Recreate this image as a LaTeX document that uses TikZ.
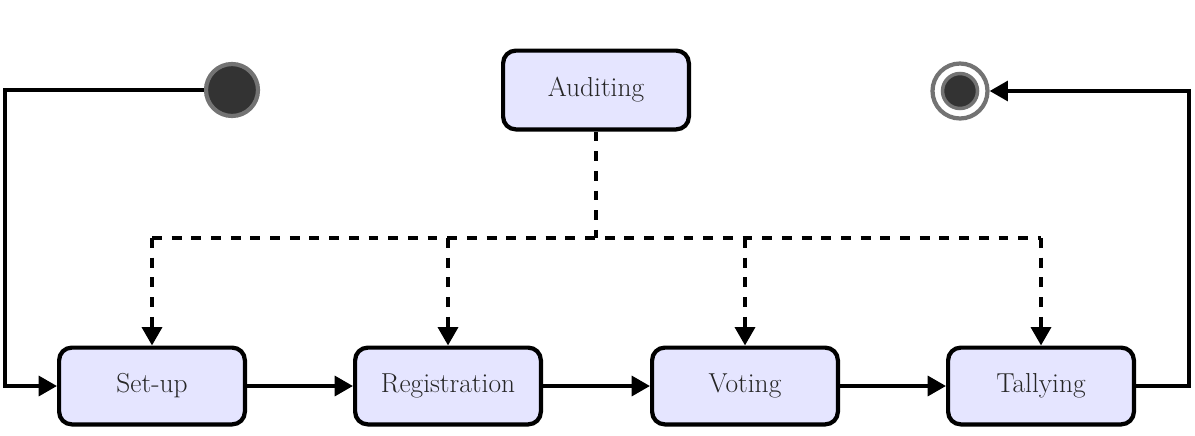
\documentclass[tikz,border=0pt]{standalone}
\usetikzlibrary{arrows.meta}
\begin{document}
\begin{tikzpicture}[x=0.025cm,y=-0.025cm,
  state/.style={draw=black, line width=3pt, rounded corners=9pt, fill=blue!10,
    minimum width=190*0.025cm-3pt, minimum height=81*0.025cm-3pt, inner sep=0pt,
    text=black!85, font=\fontsize{19.5}{23}\selectfont},
  flow/.style={line width=2.8pt, -{Triangle[length=13pt,width=14pt]}},
  dflow/.style={line width=2.8pt, dash pattern=on 7pt off 7pt},
  startnode/.style={circle, draw=black!55, line width=3pt, fill=black!80, minimum size=52*0.025cm, inner sep=0pt},
]
\useasboundingbox (0,0) rectangle (1195,435);
\node[state] (setup) at (152,386) {Set-up};
\node[state] (reg) at (448,386) {Registration};
\node[state] (vote) at (745,386) {Voting};
\node[state] (tally) at (1041,386) {Tallying};
\node[state, minimum height=83*0.025cm-3pt] (audit) at (596,90) {Auditing};
\node[startnode] (start) at (232,90) {};
\node[circle, draw=black!55, line width=3pt, fill=white, minimum size=55*0.025cm, inner sep=0pt] (endo) at (960,91) {};
\node[circle, draw=black!55, line width=2.5pt, fill=black!80, minimum size=35*0.025cm, inner sep=0pt] (endi) at (960,91) {};
\coordinate (c1) at (5,90);
\coordinate (c2) at (5,386);
\coordinate (c3) at (1189,386);
\coordinate (c4) at (1189,91);
\draw[flow] (start.west) -- (c1) -- (c2) -- (setup.west);
\draw[flow] (setup) -- (reg);
\draw[flow] (reg) -- (vote);
\draw[flow] (vote) -- (tally);
\draw[flow] (tally.east) -- (c3) -- (c4) -- (endo.east);
\coordinate (j) at (596,238);
\coordinate (jl) at (152,238);
\coordinate (jr) at (1041,238);
\draw[dflow] (audit.south) -- (j);
\draw[dflow] (jl) -- (jr);
\draw[dflow, -{Triangle[length=13pt,width=14pt]}] (jl) -- (setup.north);
\draw[dflow, -{Triangle[length=13pt,width=14pt]}] (448,238) -- (reg.north);
\draw[dflow, -{Triangle[length=13pt,width=14pt]}] (745,238) -- (vote.north);
\draw[dflow, -{Triangle[length=13pt,width=14pt]}] (jr) -- (tally.north);
\end{tikzpicture}
\end{document}
